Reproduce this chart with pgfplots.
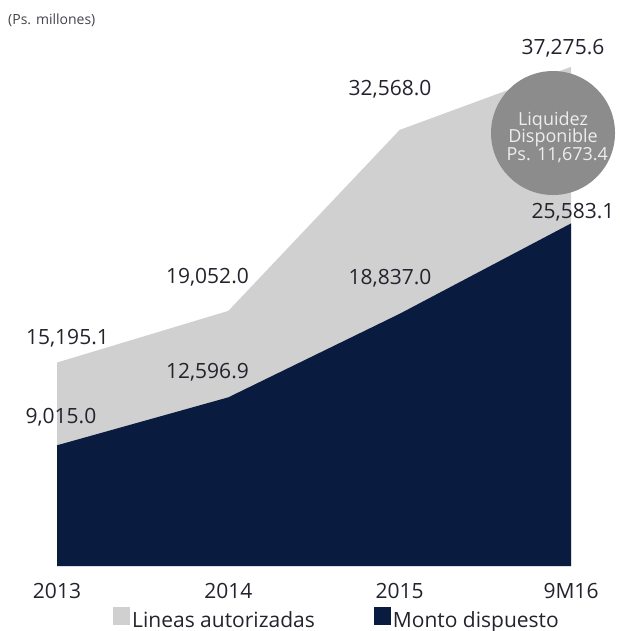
\documentclass[border=0pt]{standalone}
\usepackage{fontspec}
\setmainfont{Open Sans}
\usepackage{pgfplots}
\pgfplotsset{compat=1.18}

\definecolor{lineas}{HTML}{D0D0D0}
\definecolor{monto}{HTML}{0A1B40}
\definecolor{liq}{HTML}{8C8C8C}
\definecolor{txt}{HTML}{23232D}

\begin{document}
\begin{tikzpicture}[
    vallabel/.style={anchor=base, text=txt, font=\fontsize{21}{25}\selectfont},
    liqlabel/.style={anchor=base, text=white!93!black, font=\fontsize{18}{20}\selectfont},
]
\begin{axis}[
    scale only axis,
    width=514pt, height=566pt,
    xmin=0, xmax=3, ymin=0, ymax=42270,
    clip=false,
    axis line style={draw=none},
    tick style={draw=none},
    ytick=\empty,
    xtick={0,1,2,3},
    xticklabels={2013,2014,2015,9M16},
    xticklabel style={anchor=base, yshift=-32pt, font=\fontsize{21}{25}\selectfont, text=txt},
    legend style={at={(axis cs:0.327,-4854)}, anchor=south west, draw=none, fill=none,
        inner sep=0pt, legend columns=2, font=\fontsize{21}{25}\selectfont, text=txt,
        /tikz/every even column/.append style={column sep=57pt}},
    legend image code/.code={\fill[#1] (0pt,-5pt) rectangle (17pt,13pt);},
]
  \addplot[fill=lineas, draw=none] coordinates {
      (0, 15195.1) (1, 19052.0) (2, 32568.0) (3, 37275.6)
  } \closedcycle;
  \addlegendentry{Lineas autorizadas}
  \addplot[fill=monto, draw=none] coordinates {
      (0, 9015.0) (1, 12596.9) (2, 18837.0) (3, 25583.1)
  } \closedcycle;
  \addlegendentry{Monto dispuesto}

  % value labels
  \node[vallabel] at (axis cs:0.061,16579) {15,195.1};
  \node[vallabel] at (axis cs:0.023,10679) {9,015.0};
  \node[vallabel] at (axis cs:0.878,21134) {19,052.0};
  \node[vallabel] at (axis cs:0.878,14040) {12,596.9};
  \node[vallabel] at (axis cs:1.944,35174) {32,568.0};
  \node[vallabel] at (axis cs:1.944,21060) {18,837.0};
  \node[vallabel] at (axis cs:2.953,38236) {37,275.6};
  \node[vallabel] at (axis cs:3.012,25989) {25,583.1};

  % liquidez bubble
  \fill[liq] (axis cs:2.895,32336) circle[radius=62pt];
  \node[liqlabel] at (axis cs:2.895,32934) {Liquidez};
  \node[liqlabel] at (axis cs:2.895,31627) {Disponible};
  \node[liqlabel] at (axis cs:2.92,30320) {Ps. 11,673.4};

  \node[anchor=base west, text=txt!85!white, font=\fontsize{14}{16}\selectfont, inner sep=0pt] at (axis cs:-0.286,40477) {(Ps. millones)};

  \coordinate (bl) at (axis cs:-0.3327,-4854);
  \coordinate (tr) at (axis cs:3.2856,42270);
\end{axis}
\pgfresetboundingbox
\path[use as bounding box] (bl) rectangle (tr);
\end{tikzpicture}
\end{document}
